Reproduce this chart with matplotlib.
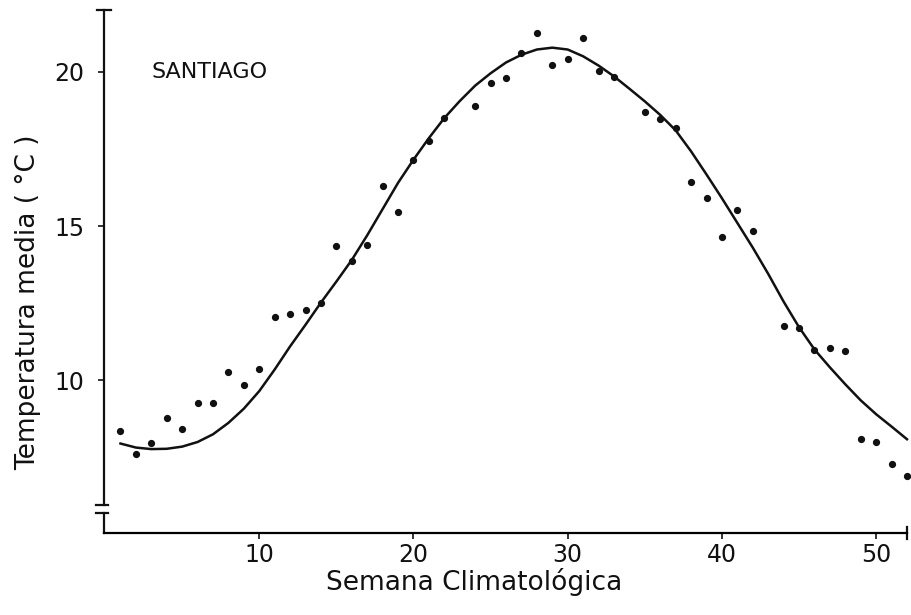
import numpy as np
import matplotlib
matplotlib.use("Agg")
import matplotlib.pyplot as plt

plt.rcParams['font.family'] = ['DejaVu Sans']

# weekly observed mean temperature (some weeks missing)
obs_week = [1, 2, 3, 4, 5, 6, 7, 8, 9, 10, 11, 12, 13, 14, 15, 16, 17, 18, 19, 20,
            21, 22, 24, 25, 26, 27, 28, 29, 30, 31, 32, 33, 35, 36, 37, 38, 39, 40,
            41, 42, 44, 45, 46, 47, 48, 49, 50, 51, 52]
obs_temp = [8.35, 7.61, 7.96, 8.77, 8.41, 9.26, 9.26, 10.26, 9.84, 10.36, 12.04, 12.14,
            12.27, 12.49, 14.34, 13.88, 14.37, 16.31, 15.44, 17.15, 17.77, 18.51, 18.9,
            19.64, 19.8, 20.6, 21.26, 20.23, 20.42, 21.1, 20.03, 19.84, 18.7, 18.48,
            18.19, 16.44, 15.92, 14.63, 15.53, 14.85, 11.75, 11.68, 10.97, 11.04, 10.94,
            8.09, 7.99, 7.28, 6.89]

# fitted curve read at each week
fit_week = list(range(1, 53))
fit_temp = [7.95, 7.82, 7.77, 7.78, 7.85, 8.0, 8.25, 8.62, 9.08, 9.65, 10.35, 11.1, 11.8,
            12.52, 13.2, 13.9, 14.7, 15.55, 16.4, 17.15, 17.85, 18.5, 19.05, 19.55,
            19.95, 20.3, 20.55, 20.72, 20.78, 20.72, 20.5, 20.2, 19.85, 19.45, 19.04,
            18.6, 18.1, 17.42, 16.67, 15.9, 15.1, 14.3, 13.45, 12.55, 11.72, 11.0, 10.42,
            9.87, 9.35, 8.9, 8.5, 8.09]

x_ticks = [10, 20, 30, 40, 50]
y_ticks = [10, 15, 20]

fig = plt.figure(figsize=(9.12, 6.15), dpi=100)
ax = fig.add_axes([0.1135, 0.1333, 0.881, 0.8504])

ax.plot(fit_week, fit_temp, color='#111111', lw=1.8, clip_on=False)
ax.plot(obs_week, obs_temp, 'o', color='#111111', ms=4.2, clip_on=False)

ax.set_xlim(-0.1, 52)
ax.set_ylim(5.05, 22)
ax.set_xticks(x_ticks)
ax.set_yticks(y_ticks)
ax.tick_params(direction='out', length=4, width=1.2, labelsize=17, colors='#111111')
ax.tick_params(axis='x', pad=3)
ax.tick_params(axis='y', pad=10)

for s in ['top', 'right', 'left']:
    ax.spines[s].set_visible(False)
ax.spines['bottom'].set_linewidth(1.6)

# left axis with break marks and end cap
k = dict(transform=ax.transAxes, color='#111111', lw=1.6, clip_on=False)
ax.plot([0, 0], [0.0535, 1.0], **k)
ax.plot([0, 0], [0.0, 0.038], **k)
ax.plot([-0.0095, 0.006], [0.0535, 0.0535], **k)
ax.plot([-0.0095, 0.006], [0.038, 0.038], **k)
ax.plot([-0.0075, 0.009], [1.0, 1.0], **k)
ax.plot([1.0, 1.0], [-0.012, 0.012], **k)

ax.text(3.0, 20.0, 'SANTIAGO', fontsize=16, ha='left', va='center', color='#111111')

ax.set_xlabel('Semana Climatológica', fontsize=19, color='#111111')
ax.set_ylabel('Temperatura media ( °C )', fontsize=19, color='#111111')
ax.xaxis.set_label_coords(0.461, -0.067)
ax.yaxis.set_label_coords(-0.078, 0.442)

fig.savefig('out.png', dpi=100)
